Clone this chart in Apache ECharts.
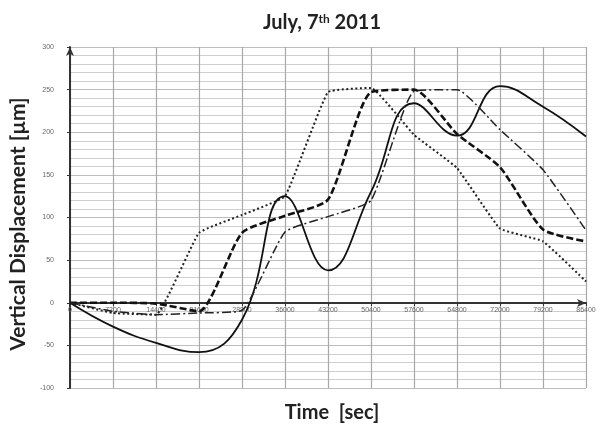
<!DOCTYPE html>
<html>
<head>
<meta charset="utf-8">
<script src="https://cdn.jsdelivr.net/npm/echarts@6/dist/echarts.min.js"></script>
<style>
  html, body { margin: 0; padding: 0; background: #fff; }
  #chart { width: 602px; height: 425px; }
</style>
</head>
<body>
<div id="chart"></div>
<script>
// Time of day in seconds, one sample every two hours
const times = [0, 7200, 14400, 21600, 28800, 36000, 43200, 50400, 57600, 64800, 72000, 79200, 86400];

// Vertical displacement [µm] of the four gauges
const solidSeries   = [0, -28, -47, -58, -20, 125, 38, 130, 234, 196, 254, 230, 195];
const dottedSeries  = [0, -12, -14, 82, 103, 125, 247, 252, 197, 158, 87, 72, 25];
const dashedSeries  = [0, 0, -1, -10, 82, 102, 121, 247, 250, 198, 159, 86, 72];
const dashDotSeries = [0, -10, -14, -12, -9, 83, 101, 120, 248, 250, 203, 156, 85];

const pairs = vals => times.map((t, i) => [t, vals[i]]);

const chart = echarts.init(document.getElementById('chart'), null, { renderer: 'canvas' });

const tickLabel = { fontSize: 7, color: '#666', fontFamily: 'Liberation Sans', formatter: v => String(v) };
const nameFont = { fontFamily: 'Lato', fontWeight: 'bold', color: '#222' };

// y = 0 sits 85 px above the bottom of the plot (range -100..300 over 341 px)
const zeroLift = 85;

chart.setOption({
  animation: false,
  backgroundColor: '#fff',
  title: {
    text: 'July, 7{sup|th} 2011',
    left: 258,
    top: 8,
    textStyle: {
      fontFamily: 'Lato', fontWeight: 'bold', fontSize: 20, color: '#222',
      rich: {
        sup: { fontFamily: 'Lato', fontWeight: 'bold', fontSize: 12, color: '#222', verticalAlign: 'top', padding: [0, 0, 8, 0] }
      }
    }
  },
  grid: { left: 70, right: 16, top: 47, bottom: 37, containLabel: false, outerBoundsMode: 'none' },
  xAxis: [
    {
      // horizontal axis drawn along y = 0
      type: 'value',
      min: 0, max: 86400, interval: 7200,
      position: 'bottom',
      offset: -zeroLift,
      name: 'Time  [sec]',
      nameLocation: 'middle',
      nameGap: 100,
      nameTextStyle: Object.assign({ fontSize: 20, padding: [0, 0, 0, 8] }, nameFont),
      axisLine: { onZero: false, lineStyle: { color: '#333', width: 2 }, symbol: ['none', 'arrow'], symbolSize: [6, 9] },
      axisTick: { show: true, length: 3, lineStyle: { color: '#333' } },
      axisLabel: Object.assign({ margin: 4 }, tickLabel),
      splitLine: { show: false }
    },
    {
      // vertical grid lines over the whole plot
      type: 'value',
      min: 0, max: 86400, interval: 7200,
      position: 'bottom',
      axisLine: { show: false },
      axisTick: { show: false },
      axisLabel: { show: false },
      splitLine: { show: true, lineStyle: { color: '#a8a8a8', width: 1.2 } }
    }
  ],
  yAxis: {
    type: 'value',
    min: -100, max: 300, interval: 50,
    name: 'Vertical Displacement [µm]',
    nameLocation: 'middle',
    nameGap: 37,
    nameTextStyle: Object.assign({ fontSize: 21, padding: [0, 13, 0, 0] }, nameFont),
    axisLine: { onZero: false, lineStyle: { color: '#333', width: 2 }, symbol: ['none', 'arrow'], symbolSize: [6, 9] },
    axisTick: { show: true, length: 3, inside: false, lineStyle: { color: '#333' } },
    axisLabel: Object.assign({ margin: 16 }, tickLabel),
    splitLine: { show: true, lineStyle: { color: '#bdbdbd', width: 1 } },
    minorTick: { show: false, splitNumber: 5 },
    minorSplitLine: { show: true, lineStyle: { color: '#cfcfcf', width: 1 } }
  },
  series: [
    {
      name: 'solid', type: 'line', data: pairs(solidSeries),
      smooth: 0.45, showSymbol: false,
      lineStyle: { color: '#111', width: 1.8, type: 'solid' }
    },
    {
      name: 'dotted', type: 'line', data: pairs(dottedSeries),
      smooth: 0.1, showSymbol: false,
      lineStyle: { color: '#222', width: 2, type: [2, 2.5] }
    },
    {
      name: 'dashed', type: 'line', data: pairs(dashedSeries),
      smooth: 0.2, showSymbol: false,
      lineStyle: { color: '#111', width: 2.6, type: [7, 3] }
    },
    {
      name: 'dashdot', type: 'line', data: pairs(dashDotSeries),
      smooth: 0.15, showSymbol: false,
      lineStyle: { color: '#222', width: 1.5, type: [9, 3, 2, 3] }
    }
  ]
});
</script>
</body>
</html>
